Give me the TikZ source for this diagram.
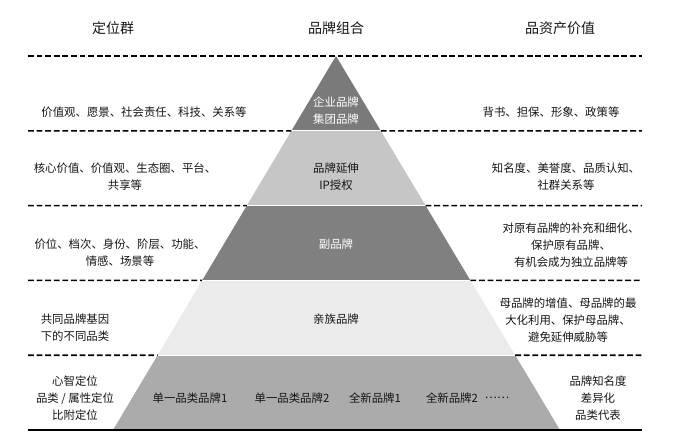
\documentclass[tikz,border=0pt]{standalone}
\usepackage{fontspec}
\setmainfont{Noto Sans CJK SC}
\usetikzlibrary{calc}
\definecolor{txt}{HTML}{151515}
\definecolor{tierA}{HTML}{7A7A7A}
\definecolor{tierB}{HTML}{C6C6C6}
\definecolor{tierC}{HTML}{808080}
\definecolor{tierD}{HTML}{EBEBEB}
\definecolor{tierE}{HTML}{ABABAB}
\tikzset{
  lbl/.style={text=txt, font=\fontsize{11.4}{17.2}\selectfont, align=center, inner sep=0pt},
  lblw/.style={lbl, text=white},
  hdr/.style={text=txt, font=\fontsize{14}{16}\selectfont, inner sep=0pt},
  sep/.style={black, line width=1.6pt, dash pattern=on 5.8pt off 2.8pt},
  tier/.style={draw=white, line width=0.8pt}
}
\begin{document}
\begin{tikzpicture}[x=1pt,y=-1pt]
\useasboundingbox (0,0) rectangle (680,445);
% pyramid geometry
\coordinate (apex) at (336,56);
\coordinate (bl) at (113,430);
\coordinate (br) at (560,430);
\foreach \k in {1,2,3,4}{
  \coordinate (L\k) at ($(apex)!\k/5!(bl)$);
  \coordinate (R\k) at ($(apex)!\k/5!(br)$);
}
% tiers
\fill[tierA] (apex) -- (L1) -- (R1) -- cycle;
\fill[tierB] (L1) -- (L2) -- (R2) -- (R1) -- cycle;
\fill[tierC] (L2) -- (L3) -- (R3) -- (R2) -- cycle;
\fill[tierD] (L3) -- (L4) -- (R4) -- (R3) -- cycle;
\fill[tierE] (L4) -- (bl) -- (br) -- (R4) -- cycle;
\foreach \k in {1,2,3,4}{ \draw[white, line width=0.8pt] (L\k) -- (R\k); }
% separators
\coordinate (s0l) at (28,56);
\coordinate (s0r) at (642,56);
\draw[sep] (s0l) -- (s0r);
\foreach \k in {1,2,3,4}{
  \coordinate (sl\k) at (28,{56+74.8*\k});
  \coordinate (sr\k) at (642,{56+74.8*\k});
  \draw[sep] (sl\k) -- (L\k);
  \draw[sep] (R\k) -- (sr\k);
}
\coordinate (bbl) at (28,430);
\coordinate (bbr) at (642,430);
\draw[black, line width=1.6pt] (bbl) -- (bbr);
% headers
\node[hdr] (h1) at (113,28) {定位群};
\node[hdr] (h2) at (336,28) {品牌组合};
\node[hdr] (h3) at (560,28) {品资产价值};
% row 1
\node[lbl] (a1) at (144,112) {价值观、愿景、社会责任、科技、关系等};
\node[lblw] (b1) at (336,111) {企业品牌\\集团品牌};
\node[lbl] (c1) at (551,112) {背书、担保、形象、政策等};
% row 2
\node[lbl] (a2) at (125,177) {核心价值、价值观、生态圈、平台、\\共享等};
\node[lbl] (b2) at (336,177) {品牌延伸\\IP授权};
\node[lbl] (c2) at (566,177) {知名度、美誉度、品质认知、\\社群关系等};
% row 3
\node[lbl] (a3) at (120,253) {价位、档次、身份、阶层、功能、\\情感、场景等};
\node[lblw] (b3) at (336,244) {副品牌};
\node[lbl] (c3) at (571,245) {对原有品牌的补充和细化、\\保护原有品牌、\\有机会成为独立品牌等};
% row 4
\node[lbl, align=left] (a4) at (75,328) {共同品牌基因\\下的不同品类};
\node[lbl] (b4) at (336,319) {亲族品牌};
\node[lbl] (c4) at (568,320) {母品牌的增值、母品牌的最\\大化利用、保护母品牌、\\避免延伸威胁等};
% row 5
\node[lbl] (a5) at (75,398) {心智定位\\品类 / 属性定位\\比附定位};
\node[lbl] (b5a) at (190,398) {单一品类品牌1};
\node[lbl] (b5b) at (292,398) {单一品类品牌2};
\node[lbl] (b5c) at (375,398) {全新品牌1};
\node[lbl] (b5d) at (452,398) {全新品牌2};
\node[lbl] (b5e) at (497,398) {……};
\node[lbl] (c5) at (598,398) {品牌知名度\\差异化\\品类代表};
\end{tikzpicture}
\end{document}
